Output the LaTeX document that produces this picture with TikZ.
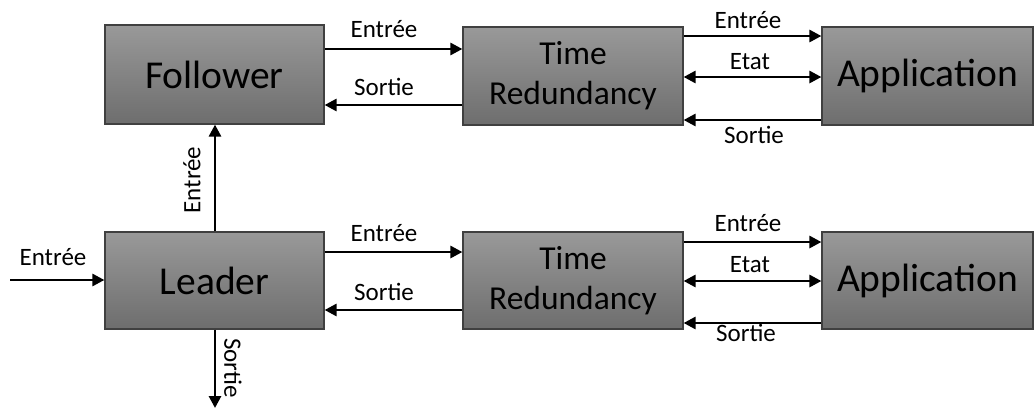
\documentclass[tikz,border=0pt]{standalone}
\usepackage{fontspec}
\setmainfont{Carlito}
\usetikzlibrary{arrows.meta}
\tikzset{
  blk/.style={draw=black!75, line width=1.2bp, top color=black!40, bottom color=black!57, inner sep=0pt, align=center},
  bigtxt/.style={font=\fontsize{39.5bp}{41bp}\selectfont},
  midtxt/.style={font=\fontsize{33.5bp}{40bp}\selectfont},
  lbl/.style={font=\fontsize{25bp}{27bp}\selectfont, inner sep=0pt},
  conn/.style={line width=2.8bp, -{Triangle[length=12bp,width=12bp]}},
  biconn/.style={line width=2.8bp, {Triangle[length=12bp,width=12bp]}-{Triangle[length=12bp,width=12bp]}}
}
\begin{document}
\begin{tikzpicture}[x=1bp,y=-1bp]
\useasboundingbox (0,0) rectangle (1035,410);
% boxes
\node[blk,bigtxt,minimum width=219bp,minimum height=99bp] (F) at (214.5,74.5) {Follower};
\node[blk,midtxt,minimum width=220bp,minimum height=98bp] (T1) at (573,76) {Time\\Redundancy};
\node[blk,bigtxt,minimum width=211bp,minimum height=98bp] (A1) at (927.5,76) {Application};
\node[blk,bigtxt,minimum width=219bp,minimum height=97bp] (L) at (214.5,280.5) {Leader};
\node[blk,midtxt,minimum width=220bp,minimum height=97bp] (T2) at (573,280.5) {Time\\Redundancy};
\node[blk,bigtxt,minimum width=211bp,minimum height=97bp] (A2) at (927.5,280.5) {Application};
\coordinate (in) at (10,280);
\coordinate (out) at (215,408);
% top row
\draw[conn] (F.east |- 0,49) -- (T1.west |- 0,49);
\node[lbl] (l1) at (384,29) {Entrée};
\draw[conn] (T1.west |- 0,105) -- (F.east |- 0,105);
\node[lbl] (l2) at (384,87) {Sortie};
\draw[conn] (T1.east |- 0,36) -- (A1.west |- 0,36);
\node[lbl] (l3) at (748,20) {Entrée};
\draw[biconn] (T1.east |- 0,77) -- (A1.west |- 0,77);
\node[lbl] (l4) at (750,62) {Etat};
\draw[conn] (A1.west |- 0,120) -- (T1.east |- 0,120);
\node[lbl] (l5) at (754,135) {Sortie};
% bottom row
\draw[conn] (L.east |- 0,252) -- (T2.west |- 0,252);
\node[lbl] (l6) at (384,233) {Entrée};
\draw[conn] (T2.west |- 0,310) -- (L.east |- 0,310);
\node[lbl] (l7) at (384,292) {Sortie};
\draw[conn] (T2.east |- 0,242) -- (A2.west |- 0,242);
\node[lbl] (l8) at (748,223) {Entrée};
\draw[biconn] (T2.east |- 0,281) -- (A2.west |- 0,281);
\node[lbl] (l9) at (750,265) {Etat};
\draw[conn] (A2.west |- 0,323) -- (T2.east |- 0,323);
\node[lbl] (l10) at (746,333) {Sortie};
% leader io
\draw[conn] (in) -- (L.west |- in);
\node[lbl] (l11) at (53,257) {Entrée};
\draw[conn] (L.north -| out) -- (F.south -| out);
\node[lbl,rotate=90] (l12) at (192,180) {Entrée};
\draw[conn] (L.south -| out) -- (out);
\node[lbl,rotate=-90] (l13) at (233,368) {Sortie};
\end{tikzpicture}
\end{document}
